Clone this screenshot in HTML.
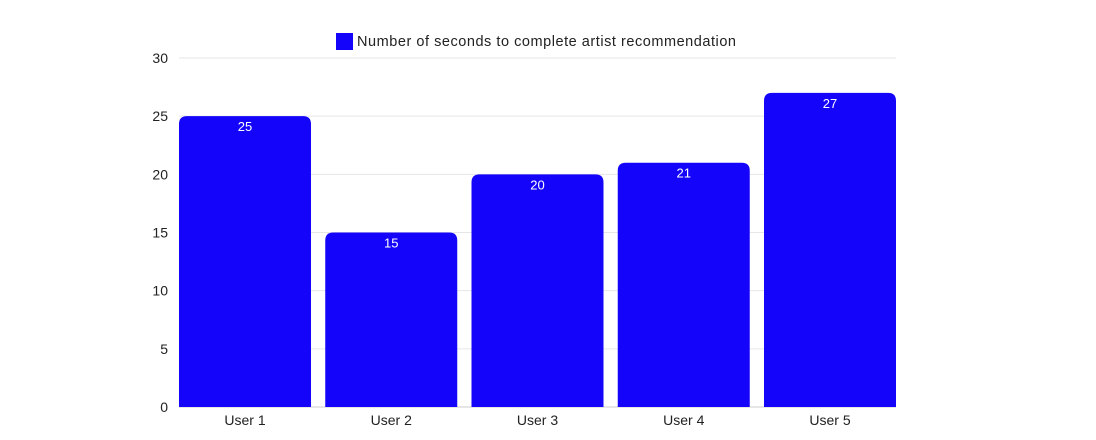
<!DOCTYPE html>
<html><head><meta charset="utf-8"><style>
body{margin:0;background:#fff;}
svg{display:block;font-family:"Liberation Sans",sans-serif;}
</style></head><body>
<svg id="c" width="1096" height="440">
<g>
<rect x="336" y="33" width="17" height="17" fill="#1405fa"/>
<text x="357" y="46" font-size="14.5" textLength="379" lengthAdjust="spacing" fill="#222">Number of seconds to complete artist recommendation</text>
</g>
<g id="grid"></g><g id="bars"></g>
</svg>
<script>
const categories=["User 1","User 2","User 3","User 4","User 5"];
const values=[25,15,20,21,27];
const ticks=[0,5,10,15,20,25,30];
const ns="http://www.w3.org/2000/svg";
const x0=179,x1=896,y0=407,y1=58,ymax=30;
const y=v=>y0-(v/ymax)*(y0-y1);
const band=(x1-x0)/categories.length, bw=132;
const xb=i=>x0+i*band;
function mk(t,a,p){const e=document.createElementNS(ns,t);for(const k in a)e.setAttribute(k,a[k]);p.appendChild(e);return e;}
const g=document.getElementById('grid'),b=document.getElementById('bars');
ticks.forEach(t=>{
 const l=mk('line',{x1:x0,x2:x1,y1:y(t),y2:y(t),stroke:t===0?'#ccc':'#e6e6e6','stroke-width':1},g);
 
 
 const tx=mk('text',{x:168,y:y(t)+5,'text-anchor':'end','font-size':14,fill:'#222'},g);tx.textContent=t;
 
 
});
categories.forEach((c,i)=>{
 const v=values[i],xl=xb(i)+(band-bw)*(i/(categories.length-1)),top=y(v),r=8;
 const p=mk('path',{d:`M${xl},${y0}V${top+r}Q${xl},${top} ${xl+r},${top}H${xl+bw-r}Q${xl+bw},${top} ${xl+bw},${top+r}V${y0}Z`,fill:'#1405fa'},b);
 
 
 const vl=mk('text',{x:xl+bw/2,y:top+15,'text-anchor':'middle','font-size':13,fill:'#fff'},b);vl.textContent=v;
 
 
 const cl=mk('text',{x:xl+bw/2,y:425,'text-anchor':'middle','font-size':14,fill:'#222'},b);cl.textContent=c;
 
 
});
</script>
</body></html>
